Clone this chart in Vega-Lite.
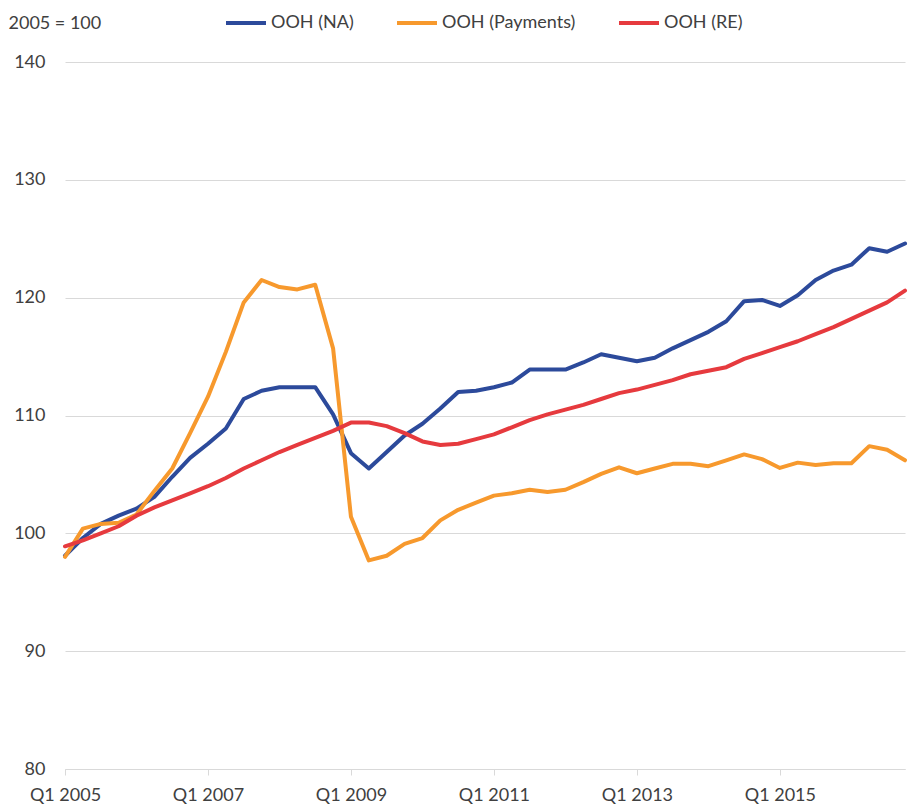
{
  "$schema": "https://vega.github.io/schema/vega-lite/v6.json",
  "width": 840,
  "height": 707,
  "autosize": {"type": "none"},
  "padding": {"left": 65, "top": 62, "right": 3, "bottom": 36},
  "background": "white",
  "config": {
    "view": {"stroke": null},
    "font": "Lato",
    "axis": {"labelFont": "Lato", "titleFont": "Lato", "labelColor": "#404040", "titleColor": "#404040"},
    "legend": {"labelFont": "Lato", "labelColor": "#404040"}
  },
  "data": {
    "values": [
      {"q": "Q1 2005", "OOH (NA)": 98.1, "OOH (Payments)": 98.0, "OOH (RE)": 98.9},
      {"q": "Q2 2005", "OOH (NA)": 99.6, "OOH (Payments)": 100.4, "OOH (RE)": 99.4},
      {"q": "Q3 2005", "OOH (NA)": 100.8, "OOH (Payments)": 100.8, "OOH (RE)": 100.0},
      {"q": "Q4 2005", "OOH (NA)": 101.5, "OOH (Payments)": 100.9, "OOH (RE)": 100.6},
      {"q": "Q1 2006", "OOH (NA)": 102.1, "OOH (Payments)": 101.6, "OOH (RE)": 101.5},
      {"q": "Q2 2006", "OOH (NA)": 103.1, "OOH (Payments)": 103.6, "OOH (RE)": 102.2},
      {"q": "Q3 2006", "OOH (NA)": 104.8, "OOH (Payments)": 105.5, "OOH (RE)": 102.8},
      {"q": "Q4 2006", "OOH (NA)": 106.4, "OOH (Payments)": 108.5, "OOH (RE)": 103.4},
      {"q": "Q1 2007", "OOH (NA)": 107.6, "OOH (Payments)": 111.6, "OOH (RE)": 104.0},
      {"q": "Q2 2007", "OOH (NA)": 108.9, "OOH (Payments)": 115.4, "OOH (RE)": 104.7},
      {"q": "Q3 2007", "OOH (NA)": 111.4, "OOH (Payments)": 119.6, "OOH (RE)": 105.5},
      {"q": "Q4 2007", "OOH (NA)": 112.1, "OOH (Payments)": 121.5, "OOH (RE)": 106.2},
      {"q": "Q1 2008", "OOH (NA)": 112.4, "OOH (Payments)": 120.9, "OOH (RE)": 106.9},
      {"q": "Q2 2008", "OOH (NA)": 112.4, "OOH (Payments)": 120.7, "OOH (RE)": 107.5},
      {"q": "Q3 2008", "OOH (NA)": 112.4, "OOH (Payments)": 121.1, "OOH (RE)": 108.1},
      {"q": "Q4 2008", "OOH (NA)": 110.1, "OOH (Payments)": 115.7, "OOH (RE)": 108.7},
      {"q": "Q1 2009", "OOH (NA)": 106.8, "OOH (Payments)": 101.4, "OOH (RE)": 109.4},
      {"q": "Q2 2009", "OOH (NA)": 105.5, "OOH (Payments)": 97.7, "OOH (RE)": 109.4},
      {"q": "Q3 2009", "OOH (NA)": 106.9, "OOH (Payments)": 98.1, "OOH (RE)": 109.1},
      {"q": "Q4 2009", "OOH (NA)": 108.3, "OOH (Payments)": 99.1, "OOH (RE)": 108.5},
      {"q": "Q1 2010", "OOH (NA)": 109.3, "OOH (Payments)": 99.6, "OOH (RE)": 107.8},
      {"q": "Q2 2010", "OOH (NA)": 110.6, "OOH (Payments)": 101.1, "OOH (RE)": 107.5},
      {"q": "Q3 2010", "OOH (NA)": 112.0, "OOH (Payments)": 102.0, "OOH (RE)": 107.6},
      {"q": "Q4 2010", "OOH (NA)": 112.1, "OOH (Payments)": 102.6, "OOH (RE)": 108.0},
      {"q": "Q1 2011", "OOH (NA)": 112.4, "OOH (Payments)": 103.2, "OOH (RE)": 108.4},
      {"q": "Q2 2011", "OOH (NA)": 112.8, "OOH (Payments)": 103.4, "OOH (RE)": 109.0},
      {"q": "Q3 2011", "OOH (NA)": 113.9, "OOH (Payments)": 103.7, "OOH (RE)": 109.6},
      {"q": "Q4 2011", "OOH (NA)": 113.9, "OOH (Payments)": 103.5, "OOH (RE)": 110.1},
      {"q": "Q1 2012", "OOH (NA)": 113.9, "OOH (Payments)": 103.7, "OOH (RE)": 110.5},
      {"q": "Q2 2012", "OOH (NA)": 114.5, "OOH (Payments)": 104.35, "OOH (RE)": 110.9},
      {"q": "Q3 2012", "OOH (NA)": 115.2, "OOH (Payments)": 105.05, "OOH (RE)": 111.4},
      {"q": "Q4 2012", "OOH (NA)": 114.9, "OOH (Payments)": 105.6, "OOH (RE)": 111.9},
      {"q": "Q1 2013", "OOH (NA)": 114.6, "OOH (Payments)": 105.1, "OOH (RE)": 112.2},
      {"q": "Q2 2013", "OOH (NA)": 114.9, "OOH (Payments)": 105.5, "OOH (RE)": 112.6},
      {"q": "Q3 2013", "OOH (NA)": 115.7, "OOH (Payments)": 105.9, "OOH (RE)": 113.0},
      {"q": "Q4 2013", "OOH (NA)": 116.4, "OOH (Payments)": 105.9, "OOH (RE)": 113.5},
      {"q": "Q1 2014", "OOH (NA)": 117.1, "OOH (Payments)": 105.7, "OOH (RE)": 113.8},
      {"q": "Q2 2014", "OOH (NA)": 118.0, "OOH (Payments)": 106.2, "OOH (RE)": 114.1},
      {"q": "Q3 2014", "OOH (NA)": 119.7, "OOH (Payments)": 106.7, "OOH (RE)": 114.8},
      {"q": "Q4 2014", "OOH (NA)": 119.8, "OOH (Payments)": 106.3, "OOH (RE)": 115.3},
      {"q": "Q1 2015", "OOH (NA)": 119.3, "OOH (Payments)": 105.55, "OOH (RE)": 115.8},
      {"q": "Q2 2015", "OOH (NA)": 120.2, "OOH (Payments)": 106.0, "OOH (RE)": 116.3},
      {"q": "Q3 2015", "OOH (NA)": 121.5, "OOH (Payments)": 105.8, "OOH (RE)": 116.9},
      {"q": "Q4 2015", "OOH (NA)": 122.3, "OOH (Payments)": 105.95, "OOH (RE)": 117.5},
      {"q": "Q1 2016", "OOH (NA)": 122.8, "OOH (Payments)": 105.95, "OOH (RE)": 118.2},
      {"q": "Q2 2016", "OOH (NA)": 124.2, "OOH (Payments)": 107.4, "OOH (RE)": 118.9},
      {"q": "Q3 2016", "OOH (NA)": 123.9, "OOH (Payments)": 107.1, "OOH (RE)": 119.6},
      {"q": "Q4 2016", "OOH (NA)": 124.6, "OOH (Payments)": 106.2, "OOH (RE)": 120.6}
    ]
  },
  "transform": [
    {"fold": ["OOH (NA)", "OOH (Payments)", "OOH (RE)"], "as": ["series", "value"]}
  ],
  "mark": {"type": "line", "strokeWidth": 4, "strokeJoin": "round", "strokeCap": "round"},
  "encoding": {
    "x": {
      "field": "q",
      "type": "ordinal",
      "sort": null,
      "scale": {"type": "point", "padding": 0},
      "axis": {
        "title": null,
        "values": ["Q1 2005", "Q1 2007", "Q1 2009", "Q1 2011", "Q1 2013", "Q1 2015"],
        "labelAngle": 0,
        "labelFontSize": 18,
        "labelPadding": 11,
        "tickSize": 6,
        "tickColor": "#d9d9d9",
        "domainColor": "#d9d9d9",
        "grid": false
      }
    },
    "y": {
      "field": "value",
      "type": "quantitative",
      "scale": {"domain": [80, 140], "nice": false, "zero": false},
      "axis": {
        "title": "2005 = 100",
        "titleAngle": 0,
        "titleAlign": "left",
        "titleBaseline": "middle",
        "titleX": -57,
        "titleY": -39,
        "titleFontSize": 18,
        "titleFontWeight": "normal",
        "values": [80, 90, 100, 110, 120, 130, 140],
        "labelFontSize": 18,
        "labelPadding": 20,
        "ticks": false,
        "domain": false,
        "grid": true,
        "gridColor": "#d9d9d9",
        "gridWidth": 1.2
      }
    },
    "color": {
      "field": "series",
      "type": "nominal",
      "scale": {
        "domain": ["OOH (NA)", "OOH (Payments)", "OOH (RE)"],
        "range": ["#2c4a9b", "#f7992d", "#e63a3e"]
      },
      "legend": {
        "title": null,
        "orient": "none",
        "legendX": 159,
        "legendY": -61,
        "direction": "horizontal",
        "symbolType": "stroke",
        "symbolStrokeWidth": 4,
        "symbolSize": 1600,
        "labelFontSize": 18,
        "labelOffset": 3,
        "columnPadding": 35
      }
    }
  }
}
